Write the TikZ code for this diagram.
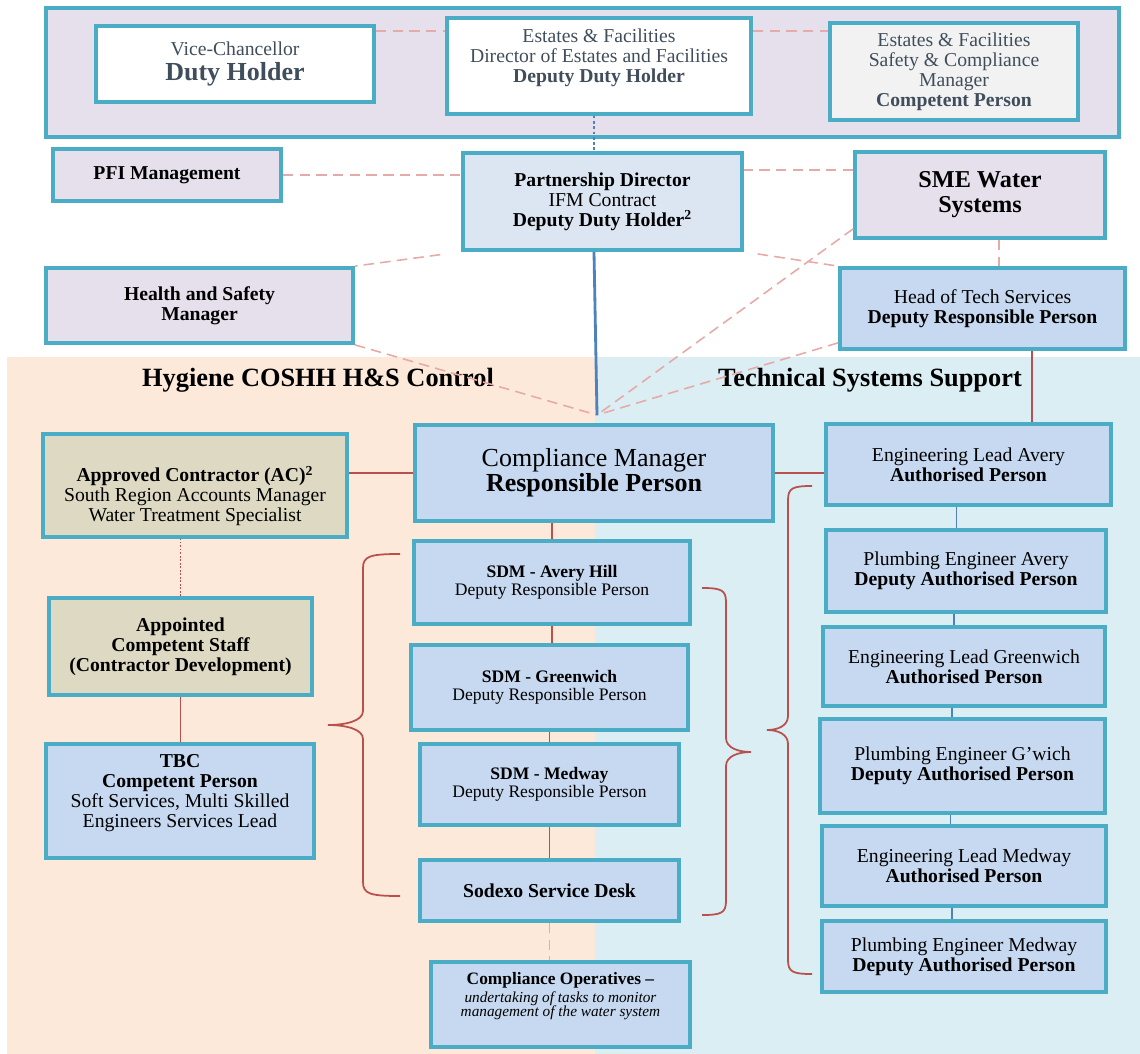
\documentclass[tikz,border=0pt]{standalone}
\usepackage{fontspec}
\setmainfont{Liberation Serif}
\definecolor{boxedge}{RGB}{75,172,198}
\definecolor{lavfill}{RGB}{229,224,236}
\definecolor{greyfill}{RGB}{242,242,242}
\definecolor{pdfill}{RGB}{220,230,242}
\definecolor{bluefill}{RGB}{198,217,241}
\definecolor{tanfill}{RGB}{221,217,195}
\definecolor{peachbg}{RGB}{253,233,217}
\definecolor{cyanbg}{RGB}{218,238,243}
\definecolor{linkred}{RGB}{184,80,77}
\definecolor{linkpink}{RGB}{230,170,168}
\definecolor{linkblue}{RGB}{79,129,189}
\definecolor{slatetext}{RGB}{64,78,92}
\newcommand{\fnorm}{\fontsize{11.2pt}{11.3pt}\selectfont}
\newcommand{\fbig}{\fontsize{14.8pt}{14.2pt}\selectfont}
\newcommand{\fsme}{\fontsize{13.8pt}{14.2pt}\selectfont}
\newcommand{\fsdm}{\fontsize{10pt}{10.2pt}\selectfont}
\newcommand{\fco}{\fontsize{8.7pt}{8.3pt}\selectfont}
\newcommand{\ftitle}{\fontsize{15pt}{15pt}\selectfont\bfseries}
\tikzset{
  box/.style={draw=boxedge, line width=2.1pt, inner sep=0pt, align=center, font=\fnorm},
  sz/.style 2 args={minimum width=#1*0.02cm, minimum height=#2*0.02cm},
  dashln/.style={linkpink, line width=0.9pt, dash pattern=on 6pt off 3.5pt},
  redln/.style={linkred, line width=1.1pt},
  blueln/.style={linkblue, line width=0.9pt},
  curlyln/.style={linkred, line width=1pt}
}
% vertical curly brace: end x, body x, tip x, top y, tip y, bottom y
\newcommand{\curlybrace}[6]{%
  \draw[curlyln] (#1,#4) .. controls ({#2+0.2*(#1-#2)},#4) and (#2,{#4+2}) .. (#2,{#4+14})
    -- (#2,{#5-14}) .. controls (#2,{#5-4}) and ({#3+0.5*(#2-#3)},#5) .. (#3,#5)
    .. controls ({#3+0.5*(#2-#3)},#5) and (#2,{#5+4}) .. (#2,{#5+14})
    -- (#2,{#6-14}) .. controls (#2,{#6-2}) and ({#2+0.2*(#1-#2)},#6) .. (#1,#6);}

\begin{document}
\begin{tikzpicture}[x=0.02cm, y=-0.02cm]
\useasboundingbox (0,0) rectangle (1140,1054);
% two working areas
\fill[peachbg] (7,357) rectangle (595,1054);
\fill[cyanbg] (595,357) rectangle (1140,1054);

% university band
\node[box, fill=lavfill, sz={1073}{129}] (band) at (582.5,72.5) {};
\node[box, fill=white, sz={278}{76}, text=slatetext, font=\fontsize{11.2pt}{14.2pt}\selectfont] (vc) at (235,64) {Vice-Chancellor\\{\fbig\textbf{Duty Holder}}};
\node[box, fill=white, sz={304}{96}, text=slatetext] (est) at (599,66) {Estates \& Facilities\\Director of Estates and Facilities\\\textbf{Deputy Duty Holder}\rule[-11.5pt]{0pt}{0pt}};
\node[box, fill=greyfill, sz={248}{97}, text=slatetext] (scm) at (954,71.5) {Estates \& Facilities\\Safety \& Compliance\\Manager\\\textbf{Competent Person}};

% contract level
\node[box, fill=lavfill, sz={228}{52}, font=\fnorm\bfseries] (pfi) at (167,175) {PFI Management};
\node[box, fill=pdfill, sz={279}{97}] (pd) at (602.5,201.5) {\textbf{Partnership Director}\\IFM Contract\\\textbf{Deputy Duty Holder\textsuperscript{2}}};
\node[box, fill=lavfill, sz={250}{86}, font=\fsme\bfseries] (sme) at (980,195) {SME Water\\Systems};
\node[box, fill=lavfill, sz={307}{75}, font=\fnorm\bfseries] (hs) at (199.5,305.5) {Health and Safety\\Manager};
\node[box, fill=bluefill, sz={285}{81}] (hts) at (982.5,308.5) {Head of Tech Services\\\textbf{Deputy Responsible Person}};

% area titles
\node[font=\ftitle] (hygt) at (318,380) {Hygiene COSHH H\&S Control};
\node[font=\ftitle] (techt) at (870,380) {Technical Systems Support};

% responsible person row
\node[box, fill=bluefill, sz={358}{96}, font=\fbig] (cm) at (594,473) {Compliance Manager\\\textbf{Responsible Person}};
\node[box, fill=tanfill, sz={304}{103}] (ac) at (195,485.5) {\rule{0pt}{21pt}\textbf{Approved Contractor (AC)\textsuperscript{2}}\\South Region Accounts Manager\\Water Treatment Specialist};
\node[box, fill=bluefill, sz={285}{81}] (ela) at (968.5,464.5) {Engineering Lead Avery\\\textbf{Authorised Person}};

% hygiene side
\node[box, fill=tanfill, sz={263}{97}, font=\fnorm\bfseries] (acs) at (180.5,646.5) {Appointed\\Competent Staff\\(Contractor Development)};
\node[box, fill=bluefill, sz={268}{114}] (tbc) at (180,801) {\textbf{TBC}\\\textbf{Competent Person}\\Soft Services, Multi Skilled\\Engineers Services Lead\rule[-11.5pt]{0pt}{0pt}};

\node[box, fill=bluefill, sz={276}{83}, font=\fsdm] (sdma) at (552,582.5) {\textbf{SDM - Avery Hill}\\Deputy Responsible Person};
\node[box, fill=bluefill, sz={277}{85}, font=\fsdm] (sdmg) at (549.5,687.5) {\textbf{SDM - Greenwich}\\Deputy Responsible Person};
\node[box, fill=bluefill, sz={259}{81}, font=\fsdm] (sdmm) at (549.5,784.5) {\textbf{SDM - Medway}\\Deputy Responsible Person};
\node[box, fill=bluefill, sz={259}{61}, font=\fnorm\bfseries] (ssd) at (549.5,890.5) {Sodexo Service Desk};
\node[box, fill=bluefill, sz={259}{85}, font=\fco] (co) at (560.5,1004.5) {{\fontsize{9.9pt}{10pt}\selectfont\textbf{Compliance Operatives --}}\\[1.5pt]\textit{undertaking of tasks to monitor}\\\textit{management of the water system}\rule[-11pt]{0pt}{0pt}};

% technical side
\node[box, fill=bluefill, sz={280}{82}] (pea) at (966,571) {Plumbing Engineer Avery\\\textbf{Deputy Authorised Person}};
\node[box, fill=bluefill, sz={282}{79}] (elg) at (964,666.5) {Engineering Lead Greenwich\\\textbf{Authorised Person}};
\node[box, fill=bluefill, sz={285}{94}] (peg) at (962.5,766) {Plumbing Engineer G'wich\\\textbf{Deputy Authorised Person}};
\node[box, fill=bluefill, sz={284}{80}] (elm) at (964,866) {Engineering Lead Medway\\\textbf{Authorised Person}};
\node[box, fill=bluefill, sz={284}{71}] (pem) at (964,956.5) {Plumbing Engineer Medway\\\textbf{Deputy Authorised Person}};

% links in the top part
\draw[dashln] ([yshift=-0.14cm]vc.north east) -- ([yshift=-0.14cm]vc.north east -| est.west);
\draw[dashln] ([yshift=-0.3cm]est.north east) -- ([yshift=-0.3cm]est.north east -| scm.west);
\draw[linkblue, line width=1.3pt, dash pattern=on 1.5pt off 1.5pt] (est.south -| cm.north) -- (pd.north -| cm.north);
\draw[dashln] (pfi.east) -- (pfi.east -| pd.west);
\draw[dashln] ([yshift=-0.4cm]sme.north west) -- ([yshift=-0.4cm]sme.north west -| pd.east);
\draw[dashln, shorten <=12pt] (pd.south west) -- (hs.north east);
\draw[dashln, shorten <=8pt] (pd.south east) -- (hts.north west);
\draw[dashln] ([xshift=0.38cm]sme.south) -- ([xshift=0.38cm]sme.south |- hts.north);

% everything meets above the compliance manager
\coordinate (hub) at (597,415);
\draw[dashln] (hs.south east) -- (hub);
\draw[dashln] ([yshift=0.22cm]sme.south west) -- (hub);
\draw[dashln] ([yshift=0.16cm]hts.south west) -- (hub);
\draw[linkblue, line width=1.6pt] (pd.south -| cm.north) -- (hub);

% red links
\draw[redln] (cm.west) -- (cm.west -| ac.east);
\draw[redln] (cm.east) -- (cm.east -| ela.west);
\draw[redln] ([xshift=0.99cm]hts.south) -- ([xshift=0.99cm]hts.south |- ela.north);
\draw[linkred, line width=0.6pt, dash pattern=on 1pt off 1pt] (acs.north) -- (acs.north |- ac.south);
\draw[redln] (acs.south) -- (acs.south |- tbc.north);
\draw[redln] (cm.south -| sdma.north) -- (sdma.north);
\foreach \a/\b in {sdma/sdmg,sdmg/sdmm,sdmm/ssd}
  \draw[redln] (\a.south) -- (\a.south |- \b.north);
\draw[dashln] (ssd.south) -- (ssd.south |- co.north);

% blue chain on the right
\foreach \a/\b in {ela/pea,pea/elg,elg/peg,peg/elm,elm/pem}
  \draw[blueln] ([xshift=-0.24cm]\a.south) -- ([xshift=-0.24cm]\a.south |- \b.north);

% braces
\curlybrace{400}{363}{328}{554}{725}{896}
\curlybrace{702}{726}{751}{588}{752}{915}
\curlybrace{812}{788}{767}{486}{730}{974}
\end{tikzpicture}
\end{document}
